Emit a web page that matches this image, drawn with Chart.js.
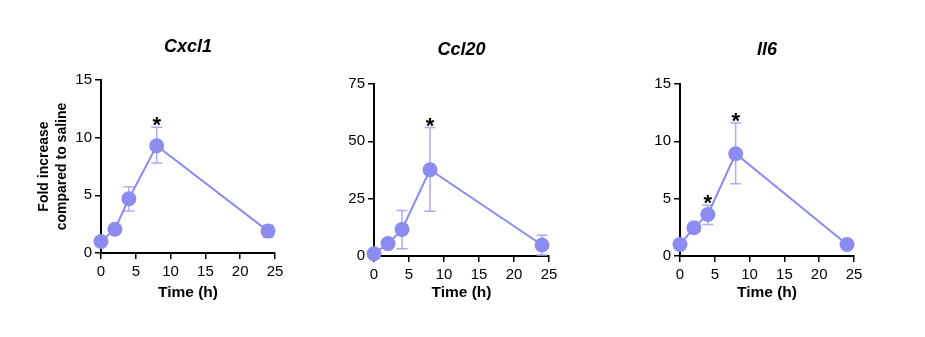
<!DOCTYPE html>
<html><head><meta charset="utf-8">
<script src="https://cdn.jsdelivr.net/npm/chart.js@4.4.1/dist/chart.umd.min.js"></script>
<style>
html,body{margin:0;padding:0;background:#fff;width:925px;height:337px;overflow:hidden}
canvas{position:absolute;top:0}
</style></head><body>
<canvas id="c1" width="310" height="337" style="left:0px;width:310px;height:337px"></canvas>
<canvas id="c2" width="305" height="337" style="left:310px;width:305px;height:337px"></canvas>
<canvas id="c3" width="310" height="337" style="left:615px;width:310px;height:337px"></canvas>
<script>
const timePoints = [0, 2, 4, 8, 24];
const xTicks = [0, 5, 10, 15, 20, 25];

const cxcl1Mean = [1.0, 2.06, 4.7, 9.3, 1.9];
const cxcl1Low  = [null, null, 3.65, 7.8, 1.4];
const cxcl1High = [null, null, 5.75, 10.9, 2.4];
const cxcl1Star = [false, false, false, true, false];
const cxcl1YTicks = [0, 5, 10, 15];

const ccl20Mean = [1.0, 5.4, 11.6, 37.6, 4.8];
const ccl20Low  = [null, null, 3.2, 19.5, 0.4];
const ccl20High = [null, null, 19.8, 56, 9.0];
const ccl20Star = [false, false, false, true, false];
const ccl20YTicks = [0, 25, 50, 75];

const il6Mean = [1.0, 2.46, 3.62, 8.92, 1.0];
const il6Low  = [null, null, 2.75, 6.29, null];
const il6High = [null, null, 4.43, 11.59, null];
const il6Star = [false, false, true, true, false];
const il6YTicks = [0, 5, 10, 15];

const FONT = "'Liberation Sans', Arial, Helvetica, sans-serif";
const POINT = '#8c8cf0';
const ERR = '#acacf4';

const errorBars = {
  id: 'errorBars',
  beforeDatasetsDraw(chart, args, opts) {
    const {ctx, scales: {x, y}} = chart;
    ctx.save();
    ctx.strokeStyle = ERR;
    ctx.lineWidth = 1.5;
    opts.low.forEach((lo, i) => {
      const hi = opts.high[i];
      if (lo == null || hi == null) return;
      const px = x.getPixelForValue(timePoints[i]);
      const pl = y.getPixelForValue(lo), ph = y.getPixelForValue(hi);
      ctx.beginPath();
      ctx.moveTo(px, pl); ctx.lineTo(px, ph);
      ctx.moveTo(px - 5.5, pl); ctx.lineTo(px + 5.5, pl);
      ctx.moveTo(px - 5.5, ph); ctx.lineTo(px + 5.5, ph);
      ctx.stroke();
    });
    ctx.restore();
  },
  afterDatasetsDraw(chart, args, opts) {
    const {ctx, scales: {x, y}} = chart;
    ctx.save();
    ctx.fillStyle = '#000';
    ctx.font = 'bold 22px ' + FONT;
    ctx.textAlign = 'center';
    ctx.textBaseline = 'alphabetic';
    opts.star.forEach((s, i) => {
      if (!s) return;
      const top = opts.high[i] != null ? opts.high[i] : opts.mean[i];
      const px = x.getPixelForValue(timePoints[i]);
      const py = y.getPixelForValue(top);
      ctx.fillText('*', px, py + 5);
    });
    ctx.restore();
  }
};

function makeChart(id, name, mean, low, high, star, yTicks, cfg) {
  const axisCommon = {
    grid: {display: true, drawOnChartArea: false, drawTicks: true, tickLength: 6, color: '#000', lineWidth: 1.5},
    border: {display: true, color: '#000', width: 2},
  };
  new Chart(document.getElementById(id), {
    type: 'scatter',
    data: {
      datasets: [{
        data: timePoints.map((t, i) => ({x: t, y: mean[i]})),
        showLine: true,
        borderColor: POINT,
        borderWidth: 2,
        backgroundColor: POINT,
        pointBackgroundColor: POINT,
        pointBorderColor: POINT,
        pointRadius: 7.5,
        pointBorderWidth: 0,
        clip: false
      }]
    },
    options: {
      responsive: false,
      animation: false,
      events: [],
      layout: {padding: {left: cfg.padL, right: cfg.padR, top: 0, bottom: 34}},
      plugins: {
        legend: {display: false},
        tooltip: {enabled: false},
        title: {
          display: true, text: name, fullSize: false, color: '#000',
          font: {family: FONT, size: 18, weight: 'bold', style: 'italic', lineHeight: 1.2},
          padding: {top: cfg.titleTop, bottom: cfg.titleBottom}
        },
        errorBars: {low, high, star, mean}
      },
      scales: {
        x: {
          type: 'linear', min: 0, max: 25,
          ...axisCommon,
          afterBuildTicks: s => { s.ticks = xTicks.map(v => ({value: v})); },
          afterFit: s => { s.height = cfg.xH; },
          ticks: {color: '#000', font: {family: FONT, size: 15}, padding: 4, maxRotation: 0, autoSkip: false},
          title: {display: true, text: 'Time (h)', color: '#000', font: {family: FONT, size: 15.5, weight: 'bold', lineHeight: 1.2}, padding: {top: 0, bottom: 1}}
        },
        y: {
          type: 'linear', min: 0, max: yTicks[yTicks.length - 1],
          ...axisCommon,
          afterBuildTicks: s => { s.ticks = yTicks.map(v => ({value: v})); },
          afterFit: s => { s.width = cfg.yW; },
          ticks: {color: '#000', font: {family: FONT, size: 15}, padding: 3, autoSkip: false},
          title: cfg.yTitle ? {display: true, text: cfg.yTitle, color: '#000', font: {family: FONT, size: 14, weight: 'bold', lineHeight: 1.3}, padding: {top: 0, bottom: 0}} : {display: false}
        }
      }
    },
    plugins: [errorBars]
  });
}

makeChart('c1', 'Cxcl1', cxcl1Mean, cxcl1Low, cxcl1High, cxcl1Star, cxcl1YTicks,
  {padL: 35, padR: 35, yW: 66, xH: 50, titleTop: 36.2, titleBottom: 22.2, yTitle: ['Fold increase', 'compared to saline']});
makeChart('c2', 'Ccl20', ccl20Mean, ccl20Low, ccl20High, ccl20Star, ccl20YTicks,
  {padL: 24, padR: 66, yW: 40, xH: 47, titleTop: 39.2, titleBottom: 23.2});
makeChart('c3', 'Il6', il6Mean, il6Low, il6High, il6Star, il6YTicks,
  {padL: 25, padR: 71, yW: 40, xH: 47, titleTop: 39.2, titleBottom: 23.2});
</script>
</body></html>
